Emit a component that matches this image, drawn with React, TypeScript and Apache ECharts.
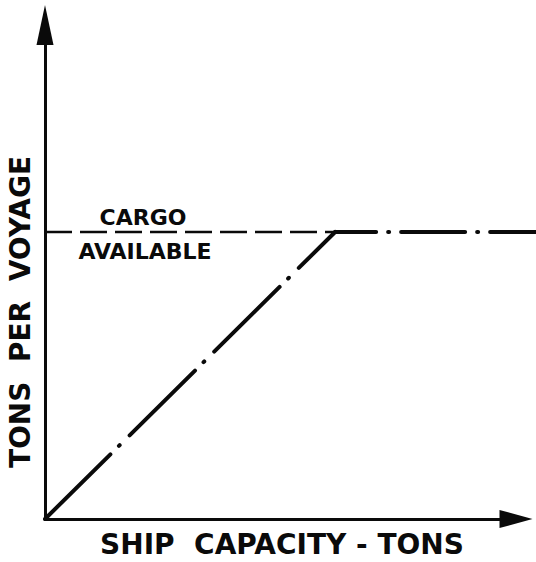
import React, { useEffect, useRef } from "react";
import * as echarts from "echarts";

// Data (arbitrary units, 0..100 on both axes)
const rampLine: [number, number][] = [
  [0, 0],
  [61.6, 58.1],
];
const capLine: [number, number][] = [
  [61.6, 58.1],
  [104.3, 58.1],
];
const cargoLine: [number, number][] = [
  [0, 58.1],
  [61.6, 58.1],
];
const xAxisTitle = "SHIP  CAPACITY - TONS";
const yAxisTitle = "TONS  PER  VOYAGE";
const cargoLabel = ["CARGO", "AVAILABLE"];

export default function App() {
  const ref = useRef<HTMLDivElement>(null);
  useEffect(() => {
    if (!ref.current) return;
    const chart = echarts.init(ref.current, null, { renderer: "svg" });
    const ink = "#0a0a0a";
    const font = "DejaVu Sans";
    const hiddenAxis = {
      show: false,
      axisLine: { show: false },
      axisTick: { show: false },
      axisLabel: { show: false },
      splitLine: { show: false },
    };
    chart.setOption({
      animation: false,
      backgroundColor: "#ffffff",
      grid: [
        { left: 45, right: 20, top: 25, bottom: 43, containLabel: false },
        // same scale, extended to the right page edge for the capped line
        { left: 45, right: 0, top: 25, bottom: 43, containLabel: false },
      ],
      xAxis: [
        {
          type: "value",
          gridIndex: 0,
          min: 0,
          max: 100,
          axisLine: {
            show: true,
            lineStyle: { color: ink, width: 3 },
            symbol: ["none", "triangle"],
            symbolSize: [18, 33],
          },
          axisTick: { show: false },
          axisLabel: { show: false },
          splitLine: { show: false },
        },
        { type: "value", gridIndex: 1, min: 0, max: 104.25, ...hiddenAxis },
      ],
      yAxis: [
        {
          type: "value",
          gridIndex: 0,
          min: 0,
          max: 100,
          axisLine: {
            show: true,
            lineStyle: { color: ink, width: 3 },
            symbol: ["none", "triangle"],
            symbolSize: [17, 40],
          },
          axisTick: { show: false },
          axisLabel: { show: false },
          splitLine: { show: false },
        },
        { type: "value", gridIndex: 1, min: 0, max: 100, ...hiddenAxis },
      ],
      series: [
        {
          type: "line",
          data: cargoLine,
          symbol: "none",
          lineStyle: { color: ink, width: 2.5, type: [27, 8] },
        },
        {
          type: "line",
          data: rampLine,
          symbol: "none",
          lineStyle: { color: ink, width: 4, type: [92, 12, 1, 14], cap: "round" },
        },
        {
          type: "line",
          xAxisIndex: 1,
          yAxisIndex: 1,
          data: capLine,
          symbol: "none",
          lineStyle: {
            color: ink,
            width: 4,
            type: [64, 12, 1, 12],
            dashOffset: 23,
            cap: "round",
          },
        },
      ],
      graphic: [
        {
          type: "text",
          x: 143,
          y: 217,
          style: {
            text: cargoLabel[0],
            textAlign: "center",
            textVerticalAlign: "middle",
            font: `bold 22px "${font}"`,
            fill: ink,
          },
        },
        {
          type: "text",
          x: 145,
          y: 251,
          style: {
            text: cargoLabel[1],
            textAlign: "center",
            textVerticalAlign: "middle",
            font: `bold 22px "${font}"`,
            fill: ink,
          },
        },
        {
          type: "text",
          x: 20,
          y: 312,
          rotation: Math.PI / 2,
          style: {
            text: yAxisTitle,
            textAlign: "center",
            textVerticalAlign: "middle",
            font: `bold 28px "${font}"`,
            fill: ink,
          },
        },
        {
          type: "text",
          x: 282,
          y: 544,
          style: {
            text: xAxisTitle,
            textAlign: "center",
            textVerticalAlign: "middle",
            font: `bold 28px "${font}"`,
            fill: ink,
          },
        },
      ],
    });
    return () => chart.dispose();
  }, []);
  return (
    <div
      ref={ref}
      style={{ position: "fixed", left: 0, top: 0, width: 536, height: 562, background: "#fff" }}
    />
  );
}
